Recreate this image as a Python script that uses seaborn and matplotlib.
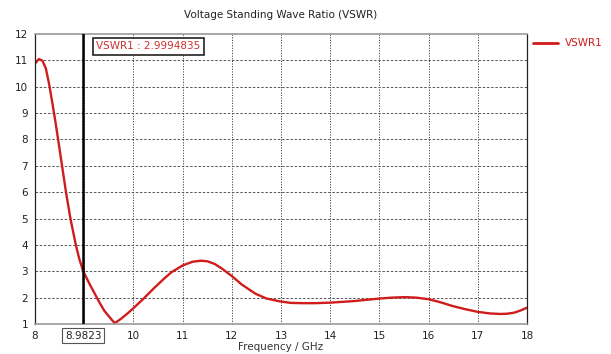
import matplotlib
matplotlib.use("Agg")
import matplotlib.pyplot as plt
import seaborn as sns
import pandas as pd

freq = [8.0, 8.08, 8.15, 8.22, 8.29, 8.36, 8.41, 8.47, 8.55, 8.63, 8.72, 8.83,
        8.9, 8.98, 9.1, 9.2, 9.3, 9.41, 9.52, 9.62, 9.75, 9.88, 10.0, 10.2,
        10.43, 10.6, 10.77, 11.0, 11.2, 11.37, 11.5, 11.65, 11.8, 12.0, 12.2,
        12.48, 12.7, 12.97, 13.2, 13.45, 13.7, 14.0, 14.25, 14.49, 14.75,
        14.97, 15.25, 15.52, 15.75, 16.0, 16.25, 16.49, 16.75, 17.0, 17.25,
        17.46, 17.6, 17.74, 17.88, 18.0]
vswr = [10.88, 11.05, 10.99, 10.7, 10.07, 9.3, 8.73, 8.0, 7.0, 6.0, 5.0, 4.0,
        3.47, 3.0, 2.55, 2.2, 1.85, 1.5, 1.25, 1.03, 1.2, 1.4, 1.6, 1.95,
        2.38, 2.68, 2.96, 3.22, 3.36, 3.4, 3.38, 3.28, 3.1, 2.82, 2.5, 2.15,
        1.97, 1.86, 1.8, 1.79, 1.79, 1.81, 1.84, 1.87, 1.92, 1.96, 2.0,
        2.02, 2.0, 1.94, 1.82, 1.68, 1.56, 1.46, 1.4, 1.38, 1.39, 1.43, 1.52,
        1.62]
x_ticks = [8, 10, 11, 12, 13, 14, 15, 16, 17, 18]
y_ticks = list(range(1, 13))
marker_x = 8.9823
marker_label = "VSWR1 : 2.9994835"
series_name = "VSWR1"

df = pd.DataFrame({"Frequency": freq, "VSWR": vswr})

sns.set_style("white")
plt.rcParams["font.family"] = ["DejaVu Sans"]

fig = plt.figure(figsize=(6.11, 3.54), dpi=100)
ax = fig.add_axes([35 / 611, 1 - 324 / 354, (527 - 35) / 611, (324 - 34) / 354])

red = "#d01c1c"
sns.lineplot(data=df, x="Frequency", y="VSWR", ax=ax, color=red, lw=1.7,
             legend=False)

ax.set_xlim(8, 18)
ax.set_ylim(1, 12)
ax.set_xticks(x_ticks)
ax.set_yticks(y_ticks)
ax.set_xticklabels([str(t) for t in x_ticks], fontsize=7.5)
ax.set_yticklabels([str(t) for t in y_ticks], fontsize=7.5)

# grid lines
for v in range(9, 18):
    ax.axvline(v, color="#444444", lw=0.7, ls=(0, (1.2, 1.5)), zorder=0)
for h in range(2, 12):
    ax.axhline(h, color="#555555", lw=0.7, ls=(0, (2.5, 1.8)), zorder=0)

ax.tick_params(axis="both", length=3, width=0.6, color="#888888", pad=2,
               labelcolor="#222222")
for side in ["top", "bottom"]:
    ax.spines[side].set_color("#9a9a9a")
    ax.spines[side].set_linewidth(1.2)
for side in ["left", "right"]:
    ax.spines[side].set_color("#222222")
    ax.spines[side].set_linewidth(0.9)

# marker
ax.axvline(marker_x, color="black", lw=1.8, zorder=3)
ax.text(9.25, 11.53, marker_label, color="#cc3030", fontsize=7.5, va="center",
        ha="left",
        bbox=dict(boxstyle="square,pad=0.3", fc="white", ec="#222222", lw=1.2),
        zorder=5)
ax.annotate("8.9823", xy=(marker_x, 1), xycoords="data",
            xytext=(0, -8.5), textcoords="offset points", ha="center",
            va="center", fontsize=7.5, color="#222222",
            bbox=dict(boxstyle="square,pad=0.25", fc="white", ec="#555555",
                      lw=0.8), annotation_clip=False)

ax.set_xlabel("Frequency / GHz", fontsize=7.5, color="#333333", labelpad=1)
ax.set_ylabel("")
fig.text(281 / 611, 1 - 15 / 354, "Voltage Standing Wave Ratio (VSWR)",
         ha="center", va="center", fontsize=7.5, color="#222222")

# legend
fig.add_artist(plt.Line2D([533 / 611, 558 / 611], [1 - 43 / 354, 1 - 43 / 354],
                          color=red, lw=2))
fig.text(565 / 611, 1 - 43 / 354, series_name, color=red, fontsize=7.5,
         va="center", ha="left")

fig.savefig("out.png", dpi=100)
